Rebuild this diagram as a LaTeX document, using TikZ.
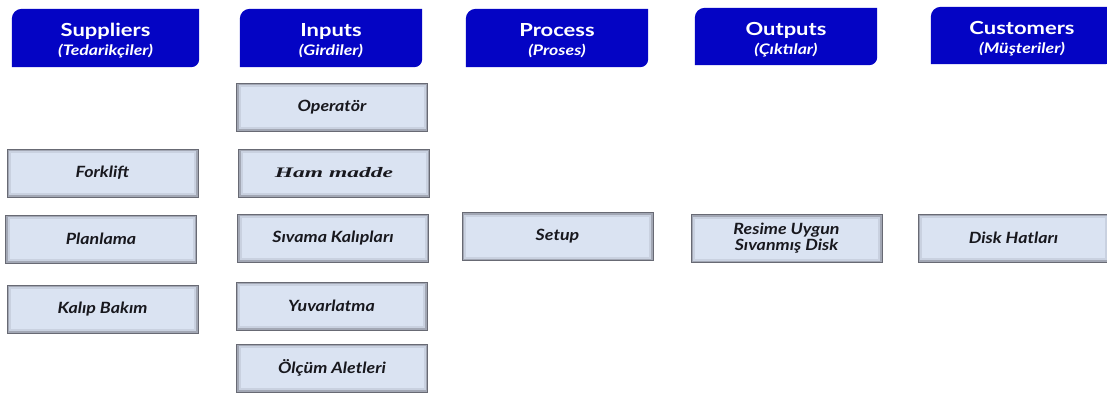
\documentclass[tikz,border=0pt]{standalone}
\usepackage{fontspec}
\usetikzlibrary{backgrounds}
\setmainfont{Lato}
\newfontfamily\headfont[FakeStretch=1.22]{Lato}
\newfontfamily\itemfont[FakeStretch=1.15]{Lato}
\newfontfamily\itemserif[FakeStretch=1.62]{Liberation Serif}

\definecolor{headblue}{RGB}{4,4,196}
\definecolor{boxfill}{RGB}{218,227,242}
\definecolor{boxedge}{RGB}{104,106,116}
\definecolor{inktext}{RGB}{24,24,30}

\newcommand{\headtitle}[2]{{\fontsize{18}{18}\selectfont\rule{0pt}{19pt}#1}\\[1pt]{\itshape\fontsize{14.5}{18}\selectfont (#2)}}

\tikzset{
  header/.style={rectangle, minimum width=182pt, minimum height=58pt,
    inner sep=0pt, align=center, text=white,
    font=\headfont\bfseries\fontsize{18}{18}\selectfont},
  itembox/.style={rectangle, minimum width=191pt, minimum height=48pt,
    inner sep=0pt, align=center, fill=boxfill, draw=boxedge, line width=1pt,
    text=inktext, font=\itemfont\bfseries\itshape\fontsize{15.5}{16}\selectfont,
    path picture={
      \draw[boxedge, line width=8pt, opacity=.14]
        (path picture bounding box.south west) rectangle (path picture bounding box.north east);
      \draw[boxedge, line width=4pt, opacity=.4]
        (path picture bounding box.south west) rectangle (path picture bounding box.north east);
    }},
}

% header band: rounded top-left and bottom-right corners
\newcommand{\headband}[1]{%
  \fill[headblue] (#1.south west) -- ([yshift=-10pt]#1.north west)
    arc[start angle=180, end angle=90, radius=10pt] -- (#1.north east)
    -- ([yshift=8pt]#1.south east) arc[start angle=0, end angle=-90, radius=8pt]
    -- cycle;}

\begin{document}
\begin{tikzpicture}[x=1pt, y=1pt]
\useasboundingbox (0,0) rectangle (1107,392);

% column headers
\node[header, minimum width=187pt] (hsup) at (105.5,354) {\headtitle{Suppliers}{Tedarikçiler}};
\node[header] (hin)  at (331,354)    {\headtitle{Inputs}{Girdiler}};
\node[header] (hpro) at (557,354)    {\headtitle{Process}{Proses}};
\node[header, minimum height=57pt] (hout) at (786,355.5)  {\headtitle{Outputs}{Çıktılar}};
\node[header, minimum height=57pt] (hcus) at (1022,356.5) {\headtitle{Customers}{Müşteriler}};

\begin{scope}[on background layer]
  \headband{hsup}
  \headband{hin}
  \headband{hpro}
  \headband{hout}
  \headband{hcus}
\end{scope}

% suppliers
\node[itembox] (forklift) at (102.5,219) {Forklift};
\node[itembox] (plan)     at (101,153)   {Planlama};
\node[itembox] (bakim)    at (102.5,83)  {Kalıp Bakım};

% inputs
\node[itembox] (oper)  at (332,285) {Operatör};
\node[itembox, font=\itemserif\bfseries\itshape\fontsize{14.5}{16}\selectfont] (ham) at (334,219) {Ham madde};
\node[itembox] (sivama) at (333,154) {Sıvama Kalıpları};
\node[itembox] (yuv)    at (331.5,86) {Yuvarlatma};
\node[itembox] (olcum)  at (332,24)  {Ölçüm Aletleri};

% process, outputs, customers
\node[itembox] (setup)  at (557.5,155.5) {Setup};
\node[itembox] (resime) at (786.5,153.5) {Resime Uygun\\Sıvanmış Disk};
\node[itembox] (disk)   at (1013.5,154)  {Disk Hatları};
\end{tikzpicture}
\end{document}
